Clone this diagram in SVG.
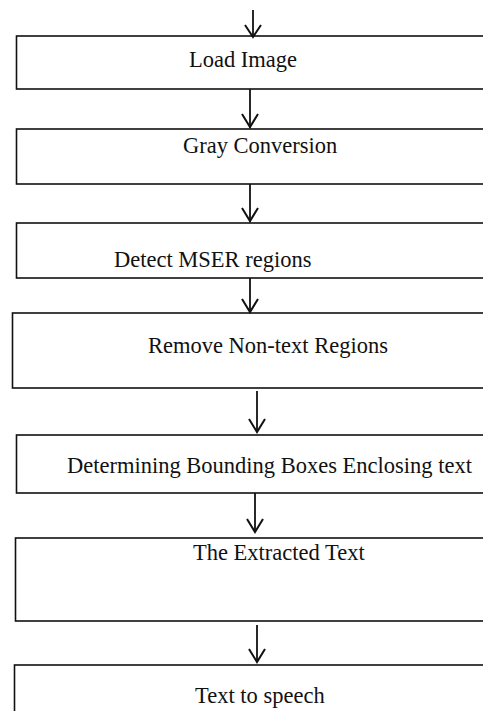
<svg xmlns="http://www.w3.org/2000/svg" width="483" height="711" viewBox="0 0 483 711">
  <style>
    .box { fill: #fff; stroke: #111; stroke-width: 1.6; }
    .lbl { font-family: "Liberation Serif", "Times New Roman", serif; font-size: 22.5px; fill: #111; }
    .wire { fill: none; stroke: #111; stroke-width: 1.8; }
    .head { fill: none; stroke: #111; stroke-width: 2; stroke-linejoin: miter; }
  </style>
  <rect width="483" height="711" fill="#fff"/>

  <!-- process steps; boxes run off the right edge -->
  <g id="load-image">
    <rect class="box" x="16.5" y="36" width="480" height="53"/>
    <text class="lbl" x="189" y="67">Load Image</text>
  </g>
  <g id="gray-conversion">
    <rect class="box" x="16.5" y="129" width="480" height="55"/>
    <text class="lbl" x="183" y="153">Gray Conversion</text>
  </g>
  <g id="detect-mser">
    <rect class="box" x="16.5" y="223" width="480" height="55"/>
    <text class="lbl" x="114" y="267">Detect MSER regions</text>
  </g>
  <g id="remove-nontext">
    <rect class="box" x="12.5" y="313" width="484" height="75"/>
    <text class="lbl" x="148" y="353">Remove Non-text Regions</text>
  </g>
  <g id="bounding-boxes">
    <rect class="box" x="16.5" y="435" width="480" height="58"/>
    <text class="lbl" x="67" y="473">Determining Bounding Boxes Enclosing text</text>
  </g>
  <g id="extracted-text">
    <rect class="box" x="15.5" y="538" width="481" height="83"/>
    <text class="lbl" x="193" y="560">The Extracted Text</text>
  </g>
  <g id="text-to-speech">
    <rect class="box" x="14.5" y="665" width="482" height="60"/>
    <text class="lbl" x="195" y="703">Text to speech</text>
  </g>

  <!-- connectors -->
  <g id="connectors">
    <path class="wire" d="M253 10 V36"/>
    <path class="head" d="M245 25 L253 37 L261 25"/>

    <path class="wire" d="M250 89 V128"/>
    <path class="head" d="M242 114 L250 127 L258 114"/>

    <path class="wire" d="M250 184 V222"/>
    <path class="head" d="M242 208 L250 221 L258 208"/>

    <path class="wire" d="M250 278 V312"/>
    <path class="head" d="M242 299 L250 312 L258 299"/>

    <path class="wire" d="M257 391 V432"/>
    <path class="head" d="M249 419 L257 432 L265 419"/>

    <path class="wire" d="M255 493 V532"/>
    <path class="head" d="M247 519 L255 532 L263 519"/>

    <path class="wire" d="M257 625 V662"/>
    <path class="head" d="M249 649 L257 662 L265 649"/>
  </g>
</svg>
